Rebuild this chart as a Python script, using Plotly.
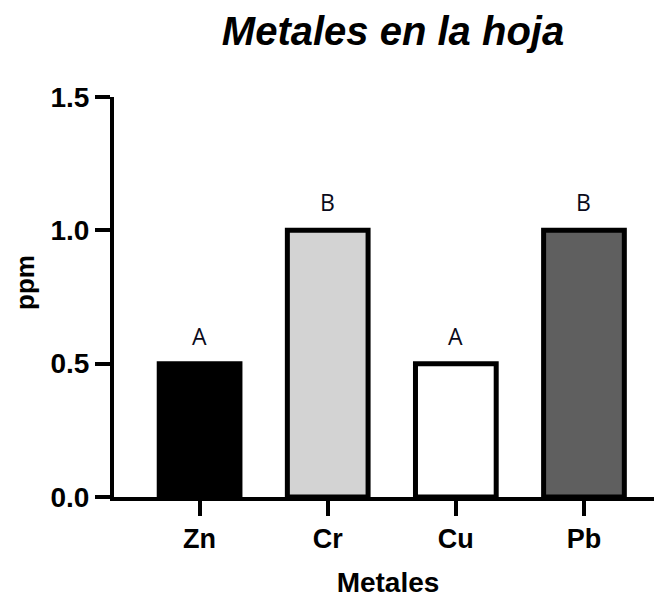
import plotly.graph_objects as go

categories = ["Zn", "Cr", "Cu", "Pb"]
values = [0.5, 1.0, 0.5, 1.0]
groups = ["A", "B", "A", "B"]
colors = ["#000000", "#d3d3d3", "#ffffff", "#5f5f5f"]
y_ticks = [0.0, 0.5, 1.0, 1.5]
y_tick_labels = ["0.0", "0.5", "1.0", "1.5"]

font_family = "Liberation Sans, Arial, sans-serif"

# the page body has an 8px margin; size the figure so it fills the window
W, H = 654, 590
L, R, T, B = 106, 0, 89, 101
pw, ph = W - L - R, H - T - B

fig = go.Figure()
fig.add_trace(go.Bar(
    x=list(range(len(categories))),
    y=values,
    width=0.63,
    marker=dict(color=colors, line=dict(color="#000000", width=5)),
    hoverinfo="skip",
))

annotations = []
for i, (v, g) in enumerate(zip(values, groups)):
    annotations.append(dict(
        x=i, y=v, xref="x", yref="y", text=g, showarrow=False,
        yanchor="bottom", yshift=10,
        font=dict(family="Open Sans, DejaVu Sans, sans-serif", size=23, color="#0a0a1a"),
    ))
annotations.append(dict(
    x=(17 - L) / pw, y=(H - B - 275) / ph, xref="paper", yref="paper", text="<b>ppm</b>",
    showarrow=False, textangle=-90, xanchor="center", yanchor="middle",
    font=dict(family=font_family, size=26, color="#000000"),
))

fig.update_layout(
    width=W, height=H, autosize=False,
    margin=dict(l=L, r=R, t=T, b=B),
    paper_bgcolor="white", plot_bgcolor="white",
    showlegend=False,
    title=dict(
        text="<b><i>Metales en la hoja</i></b>",
        x=385 / W, xref="container", xanchor="center",
        y=1 - 23 / H, yref="container", yanchor="middle",
        font=dict(family=font_family, size=40, color="#000000"),
    ),
    xaxis=dict(
        range=[-0.668, 3.609],
        tickmode="array", tickvals=list(range(len(categories))),
        ticktext=[f"<b>{c}</b>" for c in categories],
        showline=True, linecolor="#000000", linewidth=4,
        ticks="outside", ticklen=15, tickwidth=4, tickcolor="#000000",
        showgrid=False, zeroline=False,
        tickfont=dict(family=font_family, size=27, color="#000000"),
        title=dict(text="<b>Metales</b>", standoff=22,
                   font=dict(family=font_family, size=28, color="#000000")),
    ),
    yaxis=dict(
        range=[0, 1.5],
        tickmode="array", tickvals=y_ticks,
        ticktext=[f"<b>{t}</b>" for t in y_tick_labels],
        showline=True, linecolor="#000000", linewidth=4,
        ticks="outside", ticklen=15, tickwidth=4, tickcolor="#000000",
        showgrid=False, zeroline=False,
        tickfont=dict(family=font_family, size=28, color="#000000"),
    ),
    annotations=annotations,
)

fig.write_html("out.html")
